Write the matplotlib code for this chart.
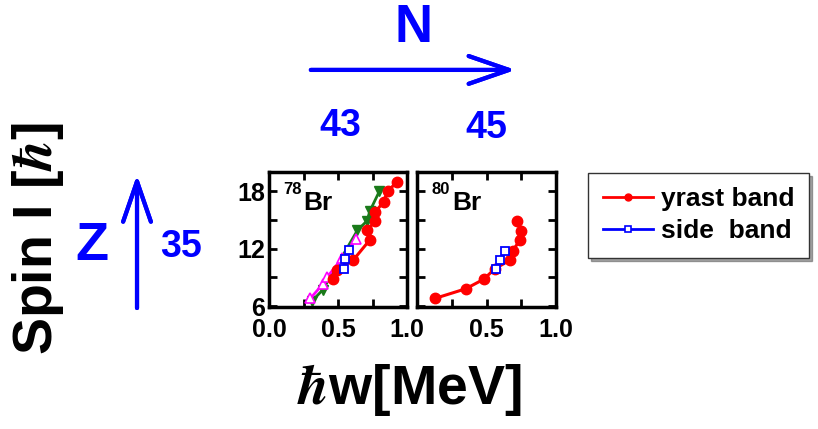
import matplotlib.pyplot as plt
from matplotlib.lines import Line2D

plt.rcParams['font.family'] = ['Liberation Sans', 'DejaVu Sans']
plt.rcParams['font.weight'] = 'bold'
plt.rcParams['mathtext.fontset'] = 'stix'

# 78Br data (hbar*omega [MeV], spin)
br78_yrast_w = [0.46, 0.49, 0.61, 0.73, 0.71, 0.77, 0.77, 0.83, 0.86, 0.93]
br78_yrast_i = [8.8, 9.8, 10.8, 12.9, 13.9, 14.9, 15.8, 16.9, 18.0, 19.0]
br78_side_w = [0.54, 0.55, 0.58]
br78_side_i = [9.9, 10.9, 11.9]
br78_green_w = [0.31, 0.39, 0.64, 0.71, 0.73, 0.80]
br78_green_i = [6.5, 7.7, 13.9, 14.9, 15.9, 18.0]
br78_mag_w = [0.30, 0.39, 0.42, 0.53, 0.63]
br78_mag_i = [6.8, 8.3, 9.0, 11.0, 13.0]

# 80Br data
br80_yrast_w = [0.13, 0.35, 0.48, 0.56, 0.67, 0.69, 0.74, 0.75, 0.72]
br80_yrast_i = [6.8, 7.8, 8.8, 9.9, 10.8, 11.8, 12.9, 13.8, 14.9]
br80_side_w = [0.57, 0.60, 0.63]
br80_side_i = [9.9, 10.8, 11.8]

fig = plt.figure(figsize=(8.18, 4.29), dpi=100)
ax1 = fig.add_axes([0.3289, 0.2844, 0.1687, 0.3147])
ax2 = fig.add_axes([0.5098, 0.2844, 0.1700, 0.3147])

for ax in (ax1, ax2):
    ax.set_xlim(0, 1.0)
    ax.set_ylim(5.9, 20)
    ax.set_xticks([0.0, 0.5, 1.0])
    ax.set_xticks([0.25, 0.75], minor=True)
    ax.set_yticks([6, 12, 18])
    ax.set_yticks([9, 15], minor=True)
    ax.tick_params(which='both', direction='in', top=True, right=True,
                   width=2, length=6, labelsize=18)
    ax.tick_params(axis='x', pad=8)
    ax.tick_params(axis='y', pad=3)
    for s in ax.spines.values():
        s.set_linewidth(2.5)

ax1.plot(br78_green_w, br78_green_i, color='#1a7a1a', lw=2, marker='v', ms=7)
ax1.plot(br78_mag_w, br78_mag_i, color='magenta', lw=2, marker='^', ms=7,
         mfc='white', mec='magenta', mew=1.2)
ax1.plot(br78_yrast_w, br78_yrast_i, color='red', lw=2.2, marker='o', ms=7.5)
ax1.plot(br78_side_w, br78_side_i, color='blue', lw=1.5, marker='s', ms=5.5,
         mfc='white', mec='blue', mew=1.3)

ax2.plot(br80_yrast_w, br80_yrast_i, color='red', lw=2.2, marker='o', ms=7.5)
ax2.plot(br80_side_w, br80_side_i, color='blue', lw=1.5, marker='s', ms=5.5,
         mfc='white', mec='blue', mew=1.3)

ax2.set_yticklabels([])
ax2.set_xticks([0.5, 1.0])

ax1.text(0.10, 0.815, '78', transform=ax1.transAxes, fontsize=12, ha='left', va='bottom')
ax1.text(0.25, 0.72, 'Br', transform=ax1.transAxes, fontsize=19, ha='left', va='baseline')
ax2.text(0.105, 0.815, '80', transform=ax2.transAxes, fontsize=12, ha='left', va='bottom')
ax2.text(0.255, 0.72, 'Br', transform=ax2.transAxes, fontsize=19, ha='left', va='baseline')

fig.text(0.046, 0.445, r'Spin I [$\hbar$]', rotation=90, fontsize=40,
         ha='center', va='center')
fig.text(0.501, 0.09, r'$\hbar$w[MeV]', fontsize=40, ha='center', va='center')

# N and Z arrows
fig.text(0.505, 0.935, 'N', color='blue', fontsize=38, ha='center', va='center')
fig.text(0.416, 0.706, '43', color='blue', fontsize=27, ha='center', va='center')
fig.text(0.594, 0.702, '45', color='blue', fontsize=27, ha='center', va='center')
fig.text(0.112, 0.427, 'Z', color='blue', fontsize=39, ha='center', va='center')
fig.text(0.221, 0.424, '35', color='blue', fontsize=27, ha='center', va='center')
arrow = dict(arrowstyle='->,head_length=1.45,head_width=0.5', lw=3, color='blue',
             shrinkA=0, shrinkB=0, mutation_scale=20)
fig.add_artist(plt.annotate('', xy=(0.630, 0.837), xytext=(0.380, 0.837),
                            xycoords='figure fraction', arrowprops=arrow))
fig.add_artist(plt.annotate('', xy=(0.1675, 0.592), xytext=(0.1675, 0.282),
                            xycoords='figure fraction', arrowprops=arrow))

handles = [Line2D([], [], color='red', lw=2, marker='o', ms=5),
           Line2D([], [], color='blue', lw=2, marker='s', ms=4, mfc='white', mew=1.2)]
leg = fig.legend(handles, ['yrast band', 'side  band'], loc='upper left',
                 bbox_to_anchor=(0.719, 0.597), borderaxespad=0, fontsize=19,
                 frameon=True, fancybox=False, shadow=True, handlelength=1.9,
                 handletextpad=0.3, borderpad=0.55, labelspacing=0.3)
leg.get_frame().set_edgecolor('#333333')
leg.get_frame().set_linewidth(1)

fig.savefig('out.png', dpi=100)
